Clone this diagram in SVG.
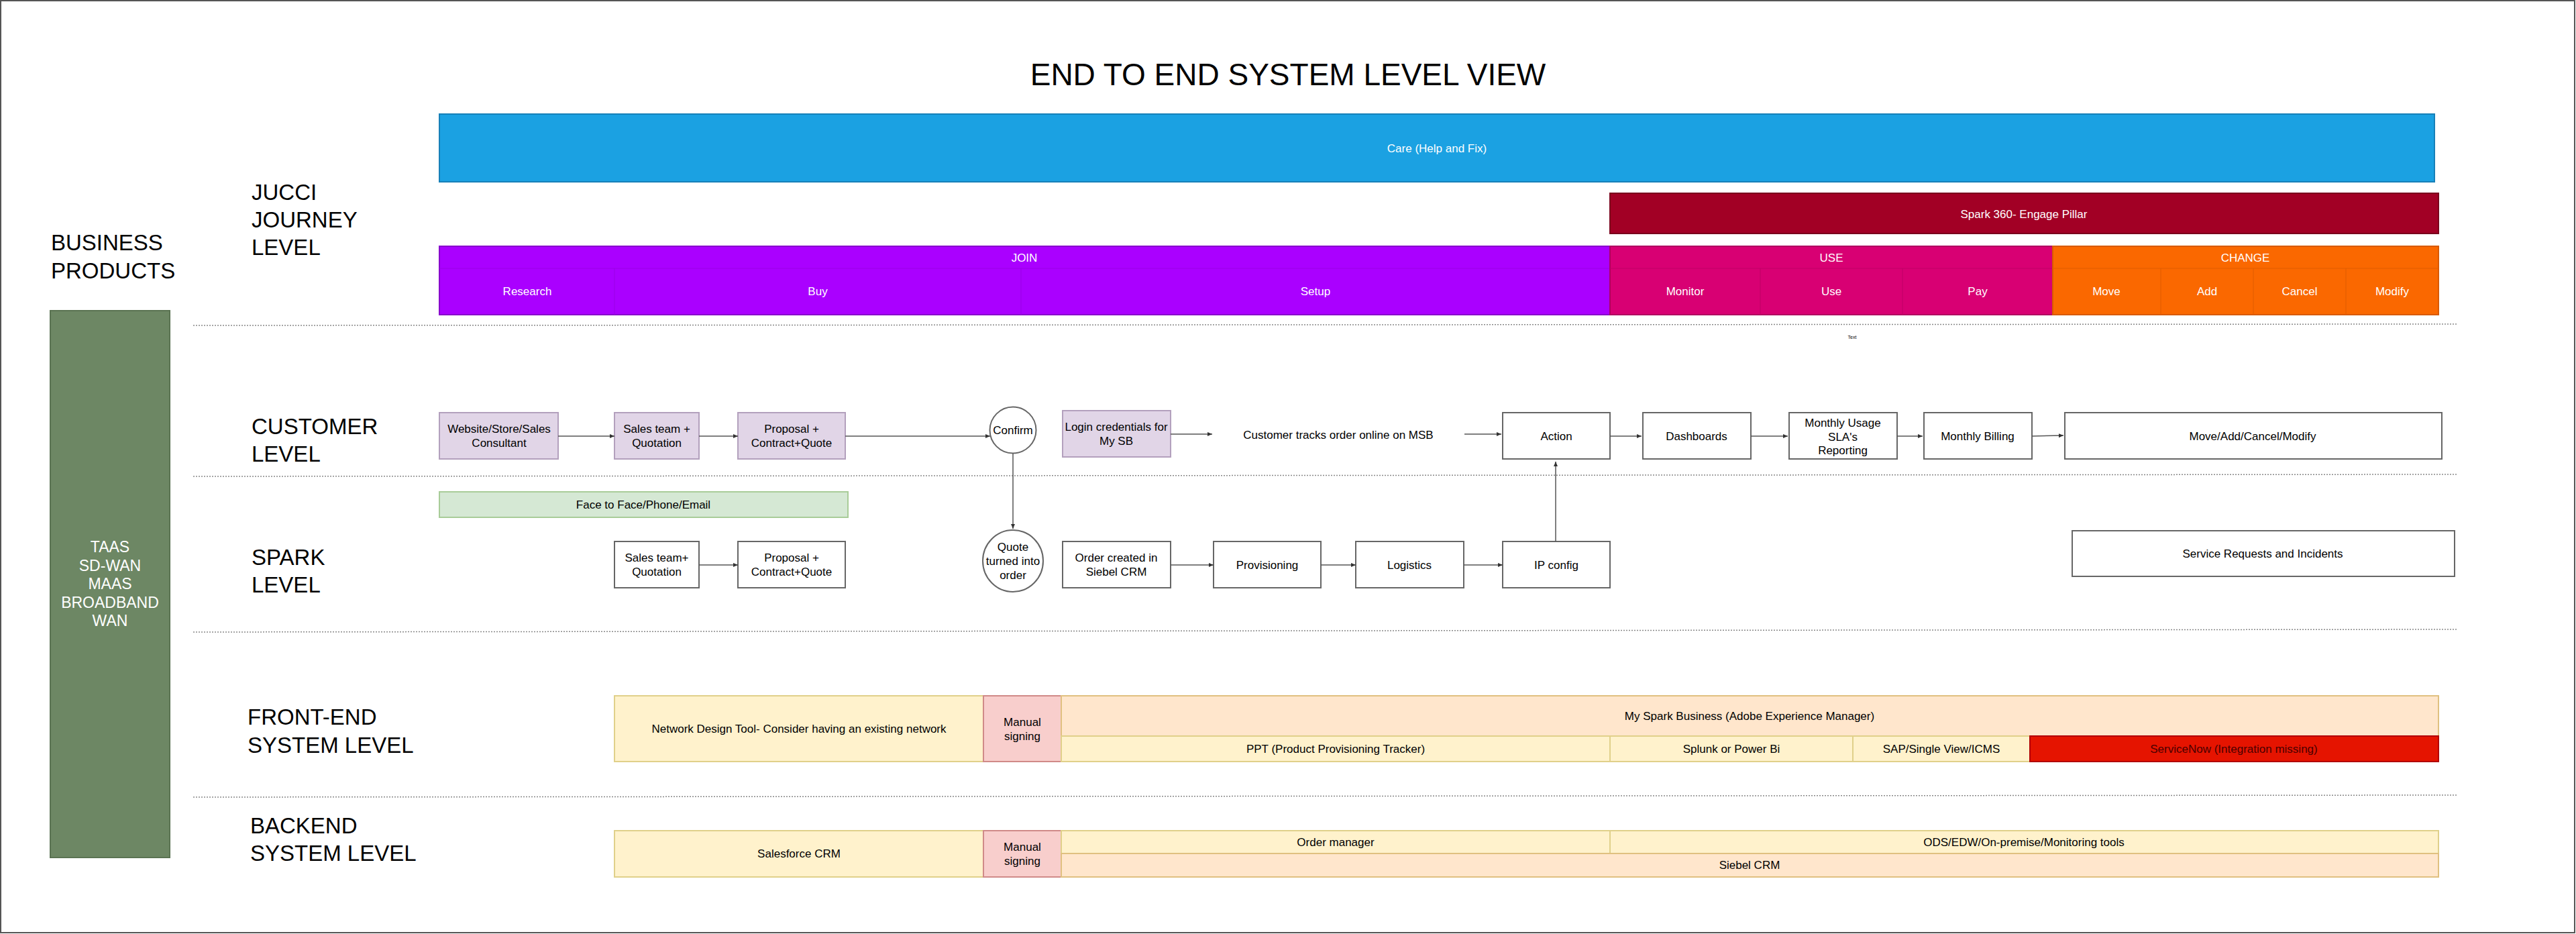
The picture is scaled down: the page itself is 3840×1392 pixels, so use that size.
<svg xmlns="http://www.w3.org/2000/svg" width="3840" height="1392" viewBox="0 0 3840 1392">
<style>
text{font-family:"Liberation Sans",Arial,sans-serif;fill:#000}
.t{font-size:17px;text-anchor:middle}
.w{font-size:17px;text-anchor:middle;fill:#fff}
.lvl{font-size:33px}
.box{fill:#fff;stroke:#666;stroke-width:2}
.pur{fill:#e1d5e7;stroke:#b3a0bd;stroke-width:2}
.yel{fill:#fff2cc;stroke:#e0d08a;stroke-width:2}
.org{fill:#ffe6cc;stroke:#e0c080;stroke-width:2}
.pnk{fill:#f8cecc;stroke:#d08a88;stroke-width:2}
.sep{stroke:#888;stroke-width:1.5;stroke-dasharray:2 2;fill:none}
.cn{stroke:#555;stroke-width:1.5;fill:none;marker-end:url(#ah)}
.div{stroke-width:1;fill:none}
</style>
<defs>
<marker id="ah" markerWidth="8" markerHeight="8" refX="7" refY="4" orient="auto" markerUnits="userSpaceOnUse">
<path d="M0,1 L7,4 L0,7 Z" fill="#333"/>
</marker>
</defs>
<rect x="1" y="1" width="3837" height="1389" fill="#fff" stroke="#555" stroke-width="2"/>

<text id="title" x="1920" y="127" font-size="46" text-anchor="middle">END TO END SYSTEM LEVEL VIEW</text>

<g id="labels">
<text class="lvl" x="76" y="373">BUSINESS</text>
<text class="lvl" x="76" y="415">PRODUCTS</text>
<text class="lvl" x="375" y="298">JUCCI</text>
<text class="lvl" x="375" y="339">JOURNEY</text>
<text class="lvl" x="375" y="380">LEVEL</text>
<text class="lvl" x="375" y="647">CUSTOMER</text>
<text class="lvl" x="375" y="688">LEVEL</text>
<text class="lvl" x="375" y="842">SPARK</text>
<text class="lvl" x="375" y="883">LEVEL</text>
<text class="lvl" x="369" y="1080">FRONT-END</text>
<text class="lvl" x="369" y="1122">SYSTEM LEVEL</text>
<text class="lvl" x="373" y="1242">BACKEND</text>
<text class="lvl" x="373" y="1283">SYSTEM LEVEL</text>
</g>

<g id="separators">
<line class="sep" x1="288" y1="485" x2="3664" y2="483"/>
<line class="sep" x1="288" y1="710" x2="3664" y2="707"/>
<line class="sep" x1="288" y1="942" x2="3664" y2="938"/>
<line class="sep" x1="288" y1="1188" x2="3664" y2="1185"/>
</g>

<g id="products">
<rect x="75" y="463" width="178" height="815" fill="#6d8764" stroke="#5a7352" stroke-width="2"/>
<text x="164" y="823" font-size="23" text-anchor="middle" fill="#fff" style="fill:#fff">TAAS</text>
<text x="164" y="851" font-size="23" text-anchor="middle" style="fill:#fff">SD-WAN</text>
<text x="164" y="878" font-size="23" text-anchor="middle" style="fill:#fff">MAAS</text>
<text x="164" y="906" font-size="23" text-anchor="middle" style="fill:#fff">BROADBAND</text>
<text x="164" y="933" font-size="23" text-anchor="middle" style="fill:#fff">WAN</text>
</g>

<g id="care">
<rect x="655" y="170" width="2974" height="101" fill="#1ba1e2" stroke="#1780b8" stroke-width="2"/>
<text class="w" x="2142" y="227">Care (Help and Fix)</text>
</g>
<g id="spark360">
<rect x="2400" y="288" width="1235" height="60" fill="#a20025" stroke="#7a001c" stroke-width="2"/>
<text class="w" x="3017" y="325">Spark 360- Engage Pillar</text>
</g>

<g id="join">
<rect x="655" y="367" width="1745" height="102" fill="#aa00ff" stroke="#8800cc" stroke-width="2"/>
<line class="div" x1="655" y1="400" x2="2400" y2="400" stroke="#9a00e6"/>
<line class="div" x1="916" y1="400" x2="916" y2="469" stroke="#9a00e6"/>
<line class="div" x1="1522" y1="400" x2="1522" y2="469" stroke="#9a00e6"/>
<text class="w" x="1527" y="390">JOIN</text>
<text class="w" x="786" y="440">Research</text>
<text class="w" x="1219" y="440">Buy</text>
<text class="w" x="1961" y="440">Setup</text>
</g>
<g id="use">
<rect x="2400" y="367" width="660" height="102" fill="#d80073" stroke="#b00060" stroke-width="2"/>
<line class="div" x1="2400" y1="400" x2="3060" y2="400" stroke="#c00066"/>
<line class="div" x1="2624" y1="400" x2="2624" y2="469" stroke="#c00066"/>
<line class="div" x1="2836" y1="400" x2="2836" y2="469" stroke="#c00066"/>
<text class="w" x="2730" y="390">USE</text>
<text class="w" x="2512" y="440">Monitor</text>
<text class="w" x="2730" y="440">Use</text>
<text class="w" x="2948" y="440">Pay</text>
</g>
<g id="change">
<rect x="3060" y="367" width="575" height="102" fill="#fa6800" stroke="#d85a00" stroke-width="2"/>
<line class="div" x1="3060" y1="400" x2="3635" y2="400" stroke="#e05d00"/>
<line class="div" x1="3221" y1="400" x2="3221" y2="469" stroke="#e05d00"/>
<line class="div" x1="3359" y1="400" x2="3359" y2="469" stroke="#e05d00"/>
<line class="div" x1="3497" y1="400" x2="3497" y2="469" stroke="#e05d00"/>
<text class="w" x="3347" y="390">CHANGE</text>
<text class="w" x="3140" y="440">Move</text>
<text class="w" x="3290" y="440">Add</text>
<text class="w" x="3428" y="440">Cancel</text>
<text class="w" x="3566" y="440">Modify</text>
</g>

<text id="tiny" x="2761" y="505" font-size="7" text-anchor="middle">Text</text>

<g id="website"><rect class="pur" x="655" y="615" width="177" height="69"/>
<text class="t" x="744" y="645">Website/Store/Sales</text><text class="t" x="744" y="666">Consultant</text></g>
<g id="sales-c"><rect class="pur" x="916" y="615" width="126" height="69"/>
<text class="t" x="979" y="645">Sales team +</text><text class="t" x="979" y="666">Quotation</text></g>
<g id="proposal-c"><rect class="pur" x="1100" y="615" width="160" height="69"/>
<text class="t" x="1180" y="645">Proposal +</text><text class="t" x="1180" y="666">Contract+Quote</text></g>
<g id="confirm"><ellipse cx="1510" cy="641" rx="34.5" ry="34.5" fill="#fff" stroke="#666" stroke-width="2"/>
<text class="t" x="1510" y="647">Confirm</text></g>
<g id="login"><rect class="pur" x="1584" y="612" width="161" height="69"/>
<text class="t" x="1664" y="642">Login credentials for</text><text class="t" x="1664" y="663">My SB</text></g>
<g id="tracks"><text class="t" x="1995" y="654">Customer tracks order online on MSB</text></g>
<g id="action"><rect class="box" x="2240" y="615" width="160" height="69"/>
<text class="t" x="2320" y="656">Action</text></g>
<g id="dashboards"><rect class="box" x="2449" y="615" width="161" height="69"/>
<text class="t" x="2529" y="656">Dashboards</text></g>
<g id="usage"><rect class="box" x="2667" y="615" width="161" height="69"/>
<text class="t" x="2747" y="636">Monthly Usage</text><text class="t" x="2747" y="657">SLA's</text><text class="t" x="2747" y="677">Reporting</text></g>
<g id="billing"><rect class="box" x="2868" y="615" width="161" height="69"/>
<text class="t" x="2948" y="656">Monthly Billing</text></g>
<g id="mac"><rect class="box" x="3078" y="615" width="562" height="69"/>
<text class="t" x="3358" y="656">Move/Add/Cancel/Modify</text></g>

<g id="f2f"><rect x="655" y="733" width="609" height="38" fill="#d5e8d4" stroke="#a8cc98" stroke-width="2"/>
<text class="t" x="959" y="758">Face to Face/Phone/Email</text></g>
<g id="sales-s"><rect class="box" x="916" y="807" width="126" height="69"/>
<text class="t" x="979" y="837">Sales team+</text><text class="t" x="979" y="858">Quotation</text></g>
<g id="proposal-s"><rect class="box" x="1100" y="807" width="160" height="69"/>
<text class="t" x="1180" y="837">Proposal +</text><text class="t" x="1180" y="858">Contract+Quote</text></g>
<g id="quote"><ellipse cx="1510" cy="836" rx="45" ry="46" fill="#fff" stroke="#666" stroke-width="2"/>
<text class="t" x="1510" y="821">Quote</text><text class="t" x="1510" y="842">turned into</text><text class="t" x="1510" y="863">order</text></g>
<g id="order"><rect class="box" x="1584" y="807" width="161" height="69"/>
<text class="t" x="1664" y="837">Order created in</text><text class="t" x="1664" y="858">Siebel CRM</text></g>
<g id="prov"><rect class="box" x="1809" y="807" width="160" height="69"/>
<text class="t" x="1889" y="848">Provisioning</text></g>
<g id="logistics"><rect class="box" x="2021" y="807" width="161" height="69"/>
<text class="t" x="2101" y="848">Logistics</text></g>
<g id="ipconfig"><rect class="box" x="2240" y="807" width="160" height="69"/>
<text class="t" x="2320" y="848">IP config</text></g>
<g id="srvreq"><rect class="box" x="3089" y="791" width="570" height="68"/>
<text class="t" x="3373" y="831">Service Requests and Incidents</text></g>

<g id="ndt"><rect class="yel" x="916" y="1037" width="550" height="98"/>
<text class="t" x="1191" y="1092">Network Design Tool- Consider having an existing network</text></g>
<g id="manual-f"><rect class="pnk" x="1466" y="1037" width="116" height="98"/>
<text class="t" x="1524" y="1082">Manual</text><text class="t" x="1524" y="1103">signing</text></g>
<g id="msb"><rect class="org" x="1582" y="1037" width="2053" height="60"/>
<text class="t" x="2608" y="1073">My Spark Business (Adobe Experience Manager)</text></g>
<g id="ppt"><rect class="yel" x="1582" y="1097" width="818" height="38"/>
<text class="t" x="1991" y="1122">PPT (Product Provisioning Tracker)</text></g>
<g id="splunk"><rect class="yel" x="2400" y="1097" width="362" height="38"/>
<text class="t" x="2581" y="1122">Splunk or Power Bi</text></g>
<g id="sap"><rect class="yel" x="2762" y="1097" width="264" height="38"/>
<text class="t" x="2894" y="1122">SAP/Single View/ICMS</text></g>
<g id="servicenow"><rect x="3026" y="1097" width="609" height="38" fill="#e51400" stroke="#b20000" stroke-width="2"/>
<text class="t" x="3330" y="1122" style="fill:#4a0000">ServiceNow (Integration missing)</text></g>

<g id="salesforce"><rect class="yel" x="916" y="1238" width="550" height="69"/>
<text class="t" x="1191" y="1278">Salesforce CRM</text></g>
<g id="manual-b"><rect class="pnk" x="1466" y="1238" width="116" height="69"/>
<text class="t" x="1524" y="1268">Manual</text><text class="t" x="1524" y="1289">signing</text></g>
<g id="ordermgr"><rect class="yel" x="1582" y="1238" width="818" height="34"/>
<text class="t" x="1991" y="1261">Order manager</text></g>
<g id="ods"><rect class="yel" x="2400" y="1238" width="1235" height="34"/>
<text class="t" x="3017" y="1261">ODS/EDW/On-premise/Monitoring tools</text></g>
<g id="siebel"><rect class="org" x="1582" y="1272" width="2053" height="35"/>
<text class="t" x="2608" y="1295">Siebel CRM</text></g>

<g id="connectors">
<line class="cn" x1="832" y1="650" x2="916" y2="650"/>
<line class="cn" x1="1042" y1="650" x2="1100" y2="650"/>
<line class="cn" x1="1260" y1="650" x2="1476" y2="650"/>
<line class="cn" x1="1745" y1="647" x2="1807" y2="647"/>
<line class="cn" x1="2183" y1="647" x2="2238" y2="647"/>
<line class="cn" x1="2400" y1="650" x2="2447" y2="650"/>
<line class="cn" x1="2610" y1="650" x2="2665" y2="650"/>
<line class="cn" x1="2828" y1="650" x2="2866" y2="650"/>
<line class="cn" x1="3029" y1="650" x2="3076" y2="649"/>
<line class="cn" x1="1510" y1="676" x2="1510" y2="788"/>
<line class="cn" x1="1042" y1="842" x2="1100" y2="842"/>
<line class="cn" x1="1745" y1="842" x2="1809" y2="842"/>
<line class="cn" x1="1969" y1="842" x2="2021" y2="842"/>
<line class="cn" x1="2182" y1="842" x2="2240" y2="842"/>
<line class="cn" x1="2319" y1="807" x2="2319" y2="688"/>
</g>
</svg>
